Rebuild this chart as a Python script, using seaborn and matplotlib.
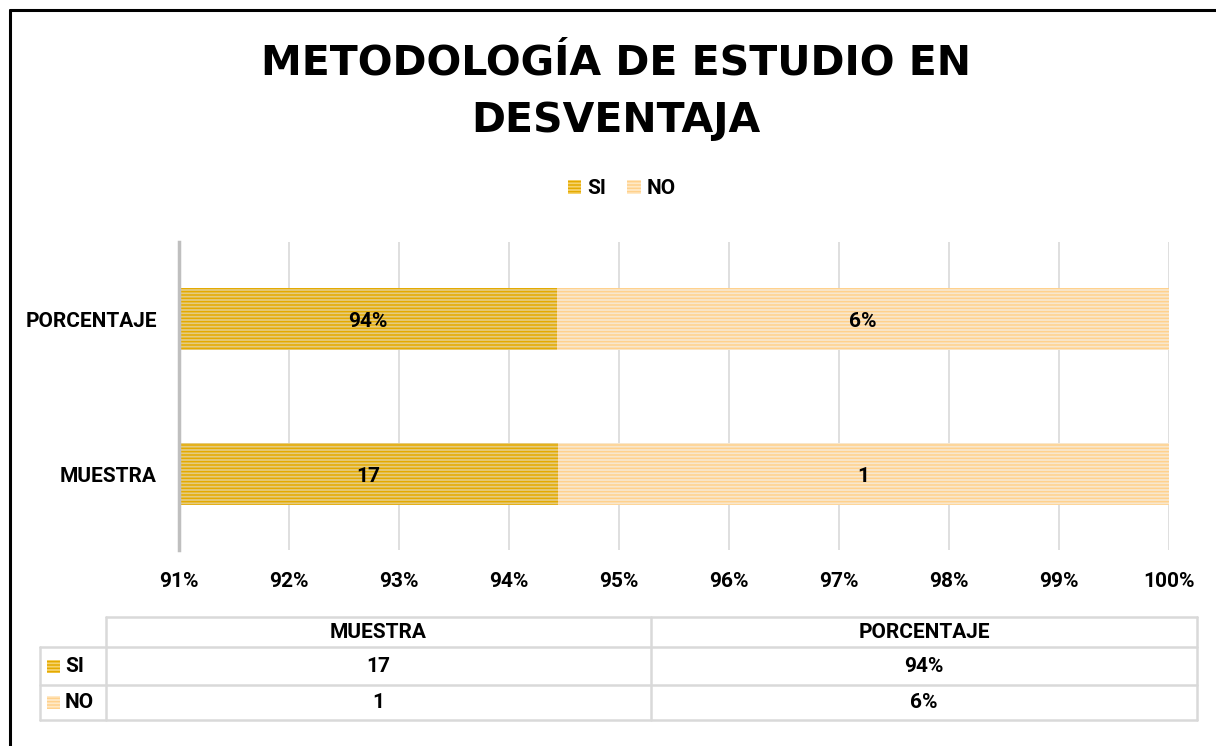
import matplotlib
matplotlib.use("Agg")
import matplotlib.pyplot as plt
import seaborn as sns
import pandas as pd
from matplotlib.patches import Patch, Rectangle
from matplotlib.lines import Line2D

# data
categories = ["PORCENTAJE", "MUESTRA"]
series = ["SI", "NO"]
si_vals = [0.9444, 17]
no_vals = [0.0556, 1]
si_labels = ["94%", "17"]
no_labels = ["6%", "1"]
table_cols = ["MUESTRA", "PORCENTAJE"]
table_si = ["17", "94%"]
table_no = ["1", "6%"]
x_ticks = [0.91, 0.92, 0.93, 0.94, 0.95, 0.96, 0.97, 0.98, 0.99, 1.00]

SI_FACE, SI_HATCH = "#F6D36E", "#E4AA00"
NO_FACE, NO_HATCH = "#FFE9C6", "#FFD18C"
FS = 15

sns.set_style("white")
plt.rcParams["font.family"] = ["Roboto", "DejaVu Sans"]
plt.rcParams["font.weight"] = "bold"
plt.rcParams["hatch.linewidth"] = 1.1
for k in ["text.color", "axes.labelcolor", "xtick.color", "ytick.color"]:
    plt.rcParams[k] = "black"

# 100% stacked shares
df = pd.DataFrame({"cat": categories, "si": si_vals, "no": no_vals})
df["total"] = df["si"] + df["no"]
df["si_share"] = df["si"] / df["total"]
df["full"] = 1.0

fig = plt.figure(figsize=(12.16, 7.46), dpi=100)
ax = fig.add_axes([179 / 1216, 1 - 550 / 746, 990 / 1216, 308 / 746])

sns.barplot(data=df, x="full", y="cat", order=categories, color=NO_FACE,
            width=0.4, ax=ax, hatch="-----", edgecolor=NO_HATCH, linewidth=0)
sns.barplot(data=df, x="si_share", y="cat", order=categories, color=SI_FACE,
            width=0.4, ax=ax, hatch="-----", edgecolor=SI_HATCH, linewidth=0)
for p in ax.patches:
    p.set_clip_on(True)

ax.set_xlim(0.91, 1.0)
ax.set_ylim(1.49, -0.497)
ax.set_xticks(x_ticks)
ax.set_xticklabels([f"{int(round(t * 100))}%" for t in x_ticks])
ax.tick_params(axis="x", length=0, pad=16, labelsize=FS)
ax.tick_params(axis="y", length=0, pad=16, labelsize=FS)
ax.set_xlabel("")
ax.set_ylabel("")
ax.grid(axis="x", color="#D9D9D9", linewidth=1.2)
ax.set_axisbelow(True)
for s in ["top", "right", "bottom"]:
    ax.spines[s].set_visible(False)
ax.spines["left"].set_color("#BFBFBF")
ax.spines["left"].set_linewidth(2.5)
ax.spines["left"].set_zorder(5)

# value labels centred in visible segments
for i, row in df.iterrows():
    left = ax.get_xlim()[0]
    ax.text((left + row.si_share) / 2, i + 0.015, si_labels[i], ha="center", va="center",
            fontsize=FS, fontweight="bold")
    ax.text((row.si_share + 1.0) / 2, i + 0.015, no_labels[i], ha="center", va="center",
            fontsize=FS, fontweight="bold")

# title
fig.text(616 / 1216, 1 - 92 / 746, "METODOLOGÍA DE ESTUDIO EN\nDESVENTAJA",
         ha="center", va="center", fontsize=29.5, fontweight="bold",
         family="DejaVu Sans", linespacing=1.55)

# legend
handles = [Patch(facecolor=SI_FACE, edgecolor=SI_HATCH, hatch="-----", linewidth=0),
           Patch(facecolor=NO_FACE, edgecolor=NO_HATCH, hatch="-----", linewidth=0)]
fig.legend(handles, series, loc="center", bbox_to_anchor=(622 / 1216, 1 - 189 / 746),
           ncol=2, frameon=False, fontsize=FS, handlelength=0.65, handleheight=0.65,
           handletextpad=0.3, columnspacing=1.0)

# overlay in pixel coordinates for the data table and frame
ov = fig.add_axes([0, 0, 1, 1], zorder=-1)
ov.set_xlim(0, 1216)
ov.set_ylim(746, 0)
ov.axis("off")

grid_c = "#D9D9D9"
lw = 1.8
col_x = [40, 106, 651, 1197]
row_y = [617, 647, 685, 720]
# horizontal lines
ov.add_line(Line2D([col_x[1], col_x[3]], [row_y[0], row_y[0]], color=grid_c, lw=lw))
for y in row_y[1:]:
    ov.add_line(Line2D([col_x[0], col_x[3]], [y, y], color=grid_c, lw=lw))
# vertical lines
ov.add_line(Line2D([col_x[0], col_x[0]], [row_y[1], row_y[3]], color=grid_c, lw=lw))
for x in col_x[1:]:
    ov.add_line(Line2D([x, x], [row_y[0], row_y[3]], color=grid_c, lw=lw))

for j, name in enumerate(table_cols):
    cx = (col_x[j + 1] + col_x[j + 2]) / 2
    ov.text(cx, (row_y[0] + row_y[1]) / 2, name, ha="center", va="center", fontsize=FS)
    ov.text(cx, (row_y[1] + row_y[2]) / 2, table_si[j], ha="center", va="center", fontsize=FS)
    ov.text(cx, (row_y[2] + row_y[3]) / 2, table_no[j], ha="center", va="center", fontsize=FS)

for k, (name, face, hc) in enumerate(zip(series, [SI_FACE, NO_FACE], [SI_HATCH, NO_HATCH])):
    yc = (row_y[k + 1] + row_y[k + 2]) / 2
    ov.add_patch(Rectangle((47, yc - 6.5), 13, 13, facecolor=face, edgecolor=hc,
                           hatch="-----", linewidth=0))
    ov.text(65, yc, name, ha="left", va="center", fontsize=FS)

# outer frame (top and left edges)
ov.add_line(Line2D([10, 1216], [10, 10], color="black", lw=2.2))
ov.add_line(Line2D([10, 10], [10, 746], color="black", lw=2.2))

fig.savefig("out.png", dpi=100, facecolor="white")
